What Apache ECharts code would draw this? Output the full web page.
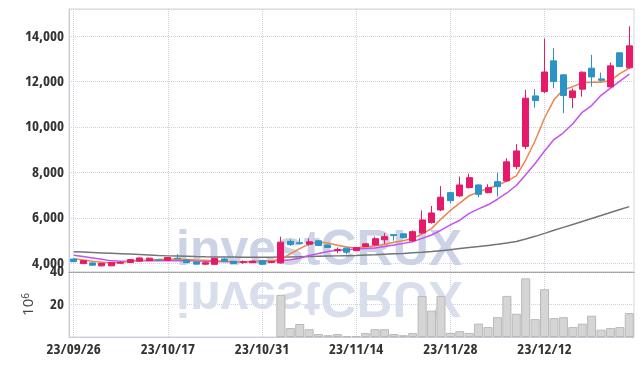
<!DOCTYPE html>
<html><head><meta charset="utf-8">
<script src="https://cdn.jsdelivr.net/npm/echarts@6/dist/echarts.min.js"></script>
<style>html,body{margin:0;padding:0;background:#fff}#c{width:643px;height:366px}</style>
</head><body><div id="c"></div>
<script>
const dates = ['23/09/26','23/09/27','23/10/04','23/10/05','23/10/06','23/10/10','23/10/11','23/10/12','23/10/13','23/10/16',
'23/10/17','23/10/18','23/10/19','23/10/20','23/10/23','23/10/24','23/10/25','23/10/26','23/10/27','23/10/30',
'23/10/31','23/11/01','23/11/02','23/11/03','23/11/06','23/11/07','23/11/08','23/11/09','23/11/10','23/11/13',
'23/11/14','23/11/15','23/11/16','23/11/17','23/11/20','23/11/21','23/11/22','23/11/23','23/11/24','23/11/27',
'23/11/28','23/11/29','23/11/30','23/12/01','23/12/04','23/12/05','23/12/06','23/12/07','23/12/08','23/12/11',
'23/12/12','23/12/13','23/12/14','23/12/15','23/12/18','23/12/19','23/12/20','23/12/21','23/12/22','23/12/26'];
const opens = [4190,3990,4020,3890,3890,4010,4040,4095,4120,4150,
4140,4225,4150,4060,3965,3960,4194,4090,4040,4031,
4119,4040,4020,4970,4910,4845,4995,4810,4560,4670,
4560,4745,4810,5040,5265,5300,4990,5340,5800,6352,
7114,6970,7335,7453,7114,7599,7630,8260,9150,11374,
11564,12916,12300,11299,11669,12594,12123,11770,13270,12610];
const closes = [4075,4120,3920,4000,4030,4040,4165,4238,4230,4140,
4260,4205,4030,3970,4030,4210,4092,3995,4070,4100,
3965,4080,4935,4825,4870,4950,4790,4700,4610,4495,
4700,4860,5088,5176,5222,5130,5396,5912,6220,6912,
6762,7453,7775,7040,7335,7379,8470,8951,11273,11167,
12425,12004,11387,11594,12418,12211,12060,12696,12665,13577];
const lows = [4050,3970,3900,3870,3880,3990,4020,4080,4100,4110,
4120,4190,4010,3950,3930,3950,4080,3980,3980,4010,
3950,4020,3990,4770,4840,4780,4760,4680,4450,4400,
4540,4720,4790,4860,5000,5100,4960,5295,5750,6300,
6650,6930,7300,6910,7080,6938,7600,8145,9026,10859,
11493,11713,10612,10832,11343,11784,12000,11750,12640,12560];
const highs = [4210,4140,4040,4020,4050,4070,4180,4260,4250,4180,
4280,4410,4170,4080,4070,4230,4220,4110,4130,4120,
4140,4100,5176,5060,5105,5100,5020,4830,4700,4700,
4720,4880,5180,5330,5290,5320,5450,6330,6528,7400,
7140,7820,7950,7480,7484,7996,8630,9250,11638,11669,
13900,13476,12330,11700,12450,13180,12400,12841,13300,14440];
const volumes = [null,null,null,null,null,null,null,null,null,null,
null,null,null,null,null,null,null,null,null,null,
null,null,25.9,5.5,8.0,4.8,1.8,1.1,1.8,0.6,
0.6,2.4,4.8,4.8,1.8,1.1,2.4,25.2,16.2,25.2,
2.5,3.6,2.5,8.2,6.1,12.2,25.3,14.3,36.1,11.0,
29.4,11.6,12.2,6.1,8.2,13.1,4.5,5.5,6.1,14.7];
const maShort = [4207,4150,4090,4050,4031,4031,4100,4135,4150,4170,
4194,4180,4165,4150,4140,4120,4090,4075,4075,4075,
4080,4120,4180,4420,4650,4850,4940,4900,4800,4720,
4680,4720,4780,4830,4930,5000,5100,5300,5530,5950,
6330,6650,6980,7150,7290,7440,7620,7850,8550,9400,
10400,11200,11650,11780,11950,11978,11978,12050,12350,12594];
const maMid = [4357,4300,4240,4180,4110,4092,4100,4110,4119,4119,
4119,4119,4110,4100,4090,4080,4075,4075,4075,4080,
4090,4100,4119,4160,4225,4350,4430,4520,4580,4600,
4630,4650,4680,4740,4810,4880,4956,5100,5250,5460,
5692,5900,6200,6400,6580,6824,7100,7430,7900,8400,
8950,9450,9750,10150,10650,10950,11400,11713,12020,12330];
const maLong = [4516,4498,4480,4462,4444,4426,4408,4390,4372,4350,
4330,4320,4310,4300,4292,4285,4280,4276,4272,4270,
4269,4270,4275,4280,4290,4300,4310,4320,4330,4340,
4350,4365,4380,4400,4420,4440,4465,4490,4520,4560,
4600,4650,4700,4740,4790,4840,4900,4960,5070,5190,
5320,5455,5585,5715,5845,5975,6105,6240,6370,6498];

const FONT = '"Open Sans","Noto Sans",sans-serif';
const FW = 'bold extra-condensed';
const GRID_LINE = {show:true, lineStyle:{color:'#cdd2e2', type:'dotted', width:1}};
const candles = opens.map((o,i)=>[o, closes[i], lows[i], highs[i]]);

const chart = echarts.init(document.getElementById('c'), null, {renderer:'canvas'});
chart.setOption({
  animation:false,
  graphic:[
    {type:'text', x:176, y:276, z:1, style:{text:'investCRUX', font:'bold 50px "Liberation Sans", Arial, sans-serif', fill:'#cdd3e6', verticalAlign:'bottom', align:'left'}},
    {type:'text', x:176, y:271, scaleY:-1, z:1, style:{text:'investCRUX', font:'bold 50px "Liberation Sans", Arial, sans-serif', fill:'#d9deec', verticalAlign:'bottom', align:'left'}}
  ],
  grid:[
    {left:69, right:9, top:9, height:263, show:true, borderColor:'#d3d7e3', borderWidth:1, backgroundColor:'transparent'},
    {left:69, right:9, top:272, height:65, show:true, borderColor:'#d3d7e3', borderWidth:1, backgroundColor:'transparent'}
  ],
  xAxis:[
    {type:'category', gridIndex:0, data:dates, boundaryGap:true,
     axisLine:{show:true, lineStyle:{color:'#9a9a9a', type:'dotted'}}, axisTick:{show:false}, axisLabel:{show:false},
     splitLine:{show:true, interval:9, alignWithLabel:true, lineStyle:{color:'#cdd2e2', type:'dotted'}}},
    {type:'category', gridIndex:1, data:dates, boundaryGap:true,
     axisLine:{show:true, lineStyle:{color:'#c8ccd8'}}, axisTick:{show:false},
     axisLabel:{show:true, interval:9, color:'#333', fontFamily:FONT, fontSize:15, fontWeight:FW, margin:5},
     splitLine:{show:true, interval:9, alignWithLabel:true, lineStyle:{color:'#cdd2e2', type:'dotted'}}}
  ],
  yAxis:[
    {type:'value', gridIndex:0, min:3620, max:15200, splitNumber:5, scale:true,
     axisLine:{show:true, lineStyle:{color:'#c8ccd8'}}, axisTick:{show:false},
     axisLabel:{color:'#333', fontFamily:FONT, fontSize:15, fontWeight:FW, margin:5, showMinLabel:false, showMaxLabel:false,
       formatter:v=>v.toLocaleString('en-US')},
     splitLine:GRID_LINE},
    {type:'value', gridIndex:1, min:0, max:40, interval:20,
     name:'{a|10}{b|6}', nameLocation:'middle', nameRotate:90, nameGap:32,
     nameTextStyle:{color:'#333', fontFamily:FONT, rich:{a:{fontSize:15, fontFamily:FONT, color:'#444'}, b:{fontSize:10, fontFamily:FONT, color:'#444', verticalAlign:'top', padding:[0,0,6,0]}}},
     axisLine:{show:true, lineStyle:{color:'#c8ccd8'}}, axisTick:{show:false},
     axisLabel:{color:'#333', fontFamily:FONT, fontSize:15, fontWeight:FW, margin:5, showMinLabel:false},
     splitLine:GRID_LINE}
  ],
  series:[
    {type:'line', xAxisIndex:0, yAxisIndex:0, data:maLong, symbol:'none', z:3, lineStyle:{color:'#747474', width:1.5}},
    {type:'line', xAxisIndex:0, yAxisIndex:0, data:maMid, symbol:'none', z:3, lineStyle:{color:'#c552ee', width:1.5}},
    {type:'line', xAxisIndex:0, yAxisIndex:0, data:maShort, symbol:'none', z:3, lineStyle:{color:'#ee8448', width:1.5}},
    {type:'candlestick', xAxisIndex:0, yAxisIndex:0, data:candles, barWidth:6.5, z:4,
     itemStyle:{color:'#e61a69', color0:'#2b93c6', borderColor:'#e61a69', borderColor0:'#2b93c6', borderWidth:1}},
    {type:'bar', xAxisIndex:1, yAxisIndex:1, data:volumes, barCategoryGap:'4%', z:3,
     itemStyle:{color:'#d5d5d5', borderColor:'#b9b9b9', borderWidth:1}}
  ]
});
</script></body></html>
